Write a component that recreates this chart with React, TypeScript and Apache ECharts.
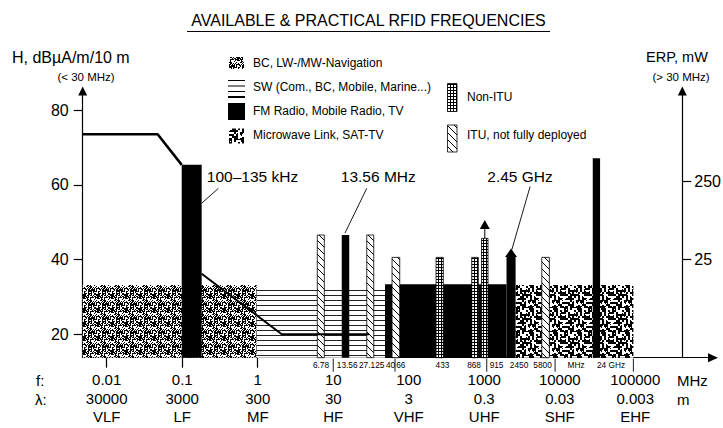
import React, { useEffect, useRef } from 'react';
import * as echarts from 'echarts';

const W = 723;
const H = 428;
const FONT = '"Liberation Sans", Arial, Helvetica, sans-serif';

// ---- texts ----
const chartTitle = 'AVAILABLE & PRACTICAL RFID FREQUENCIES';
const leftAxisTitle = 'H, dBµA/m/10 m';
const leftAxisNote = '(< 30 MHz)';
const rightAxisTitle = 'ERP, mW';
const rightAxisNote = '(> 30 MHz)';
const legendLeftTexts = ['BC, LW-/MW-Navigation', 'SW (Com., BC, Mobile, Marine...)', 'FM Radio, Mobile Radio, TV', 'Microwave Link, SAT-TV'];
const legendRightTexts = ['Non-ITU', 'ITU, not fully deployed'];

// ---- x axis: frequency (MHz, log scale) ----
const decadeMHz = [0.01, 0.1, 1, 10, 100, 1000, 10000, 100000];
const freqTickLabels = ['0.01', '0.1', '1', '10', '100', '1000', '10000', '100000'];
const wavelengthTickLabels = ['30000', '3000', '300', '30', '3', '0.3', '0.03', '0.003'];
const bandTickLabels = ['VLF', 'LF', 'MF', 'HF', 'VHF', 'UHF', 'SHF', 'EHF'];
const tickedDecadesMHz = [0.01, 0.1, 1];
const xMinMHz = 0.00481;
const xMaxMHz = 1.07e6;

// ---- left axis: H field strength ----
const hTicks = [20, 40, 60, 80];
const hMin = 13.7;
const hMax = 85.2;

// ---- right axis: ERP (mW), positions on the H scale ----
const erpTickH = [40.1, 60.9];
const erpTickLabels = ['25', '250'];

// ---- frequency bands ----
const bandNames = ['BC LW/MW', 'SW', 'FM/Mobile/TV', 'Microwave/SAT-TV', '100-135 kHz', '2.45 GHz', '6.78 MHz', '13.56 MHz', '27.125 MHz', '40.66 MHz', '433 MHz', '868 MHz', '915 MHz', '5.8 GHz', '24 GHz'];
const bandKinds = ['bc', 'sw', 'fm', 'mw', 'fm', 'fm', 'itu', 'fm', 'itu', 'itu', 'non', 'non', 'non', 'itu', 'fm'];
const bandStartMHz = [0.00481, 0.97, 48.5, 2600, 0.0985, 1972, 6.15, 12.97, 27.8, 60.1, 230, 683, 921, 5780, 27350];
const bandEndMHz = [0.97, 48.5, 1972, 94400, 0.181, 2600, 7.62, 16.3, 34.4, 76.0, 287, 835, 1122, 7280, 34200];
const bandLevel = [33.2, 31.9, 33.4, 33.2, 65.4, 40.8, 46.6, 46.6, 46.6, 40.6, 40.6, 40.6, 45.7, 40.6, 67.2];
const bandArrowTip: (number | null)[] = [null, null, null, null, null, 43.0, null, null, null, null, null, null, 50.6, null, null];

// ---- field strength limit (H, < 30 MHz) ----
const limitAMHz = [0.00481, 0.0473, 0.0985];
const limitAH = [73.6, 73.6, 65.4];
const limitBMHz = [0.181, 2.08, 30];
const limitBH = [36.2, 20, 20];

// ---- callouts ----
const calloutTexts = ['100–135 kHz', '13.56 MHz', '2.45 GHz'];
const calloutTextMHz = [0.853, 39.5, 2980];
const calloutTextH = [62.2, 62.2, 62.2];
const calloutFromMHz = [0.301, 27.8, 4050];
const calloutFromH = [59.1, 59.1, 59.6];
const calloutToMHz = [0.181, 14.3, 2312];
const calloutToH = [55.1, 47.1, 42.6];

// ---- small frequency labels along the axis ----
const markerLabels = ['6.78', '13.56', '27.125', '40', '66', '433', '868', '915', '2450', '5800', 'MHz', '24 GHz'];
const markerLabelMHz = [6.89, 15.3, 32.3, 57.5, 78.5, 280, 733, 1455, 2891, 5920, 16440, 47750];
const markerSeparatorMHz = [10, 65.8, 1079, 8670, 94400];

const lg = (v: number) => Math.log10(v);

function hash2(x: number, y: number, s: number) {
  let h = (Math.imul(x, 374761393) + Math.imul(y, 668265263) + Math.imul(s, 982451653)) | 0;
  h = Math.imul(h ^ (h >>> 13), 1274126177);
  h = h ^ (h >>> 16);
  return (h >>> 0) / 4294967296;
}

function makeTile(w: number, h: number, draw: (ctx: CanvasRenderingContext2D) => void) {
  const c = document.createElement('canvas');
  c.width = w;
  c.height = h;
  const ctx = c.getContext('2d') as CanvasRenderingContext2D;
  ctx.fillStyle = '#ffffff';
  ctx.fillRect(0, 0, w, h);
  ctx.fillStyle = '#000000';
  draw(ctx);
  return { image: c, repeat: 'repeat', imageWidth: w, imageHeight: h } as any;
}

function buildFills() {
  const bc = makeTile(14, 14, (ctx) => {
    for (let y = 0; y < 14; y++) {
      for (let x = 0; x < 14; x++) {
        const col = x % 7;
        const bias = col === 0 ? 0.12 : 0;
        if (hash2(x, y, 3) < 0.5 + bias) ctx.fillRect(x, y, 1, 1);
      }
    }
  });
  const mw = makeTile(24, 24, (ctx) => {
    for (let y = 0; y < 12; y++) {
      for (let x = 0; x < 12; x++) {
        if (hash2(x, y, 7) < 0.5) ctx.fillRect(x * 2, y * 2, 2, 2);
      }
    }
    for (let y = 0; y < 24; y++) {
      for (let x = 0; x < 24; x++) {
        if (hash2(x, y, 11) < 0.12) {
          ctx.fillStyle = hash2(x, y, 13) < 0.5 ? '#ffffff' : '#000000';
          ctx.fillRect(x, y, 1, 1);
        }
      }
    }
  });
  const non = makeTile(3, 3, (ctx) => {
    ctx.fillRect(0, 0, 3, 1);
    ctx.fillRect(0, 0, 1, 3);
  });
  const itu = makeTile(7, 7, (ctx) => {
    for (let i = 0; i < 7; i++) ctx.fillRect(i, i, 1, 1);
  });
  const sw = makeTile(4, 5, (ctx) => {
    ctx.fillStyle = '#222222';
    ctx.fillRect(0, 0, 4, 1);
  });
  return { bc, mw, non, itu, sw, fm: '#000000' } as Record<string, any>;
}

function txt(x: number, y: number, text: string, size: number, align = 'left', extra: any = {}) {
  return {
    type: 'text',
    x,
    y,
    silent: true,
    style: {
      text,
      fontSize: size,
      fontFamily: FONT,
      fill: '#000',
      align,
      textAlign: align,
      verticalAlign: 'middle',
      textVerticalAlign: 'middle',
      ...extra,
    },
  };
}

function buildOption() {
  const fills = buildFills();
  const axisColor = '#000';

  const graphic: any[] = [
    txt(368.5, 20, chartTitle, 16, 'center'),
    { type: 'line', silent: true, shape: { x1: 187, y1: 31.5, x2: 550, y2: 31.5 }, style: { stroke: '#000', lineWidth: 1.2 } },
    txt(12, 57, leftAxisTitle, 16, 'left'),
    txt(86, 76.5, leftAxisNote, 11.5, 'center'),
    txt(677, 57, rightAxisTitle, 14.5, 'center'),
    txt(681, 76.5, rightAxisNote, 11.5, 'center'),
    txt(36, 380, 'f:', 15, 'left'),
    txt(35, 399, 'λ:', 15, 'left'),
    txt(677, 380, 'MHz', 15, 'left'),
    txt(677, 399, 'm', 15, 'left'),
    // legend
    { type: 'rect', silent: true, shape: { x: 229, y: 57, width: 15, height: 12 }, style: { fill: fills.bc } },
    { type: 'line', silent: true, shape: { x1: 228, y1: 80.5, x2: 245, y2: 80.5 }, style: { stroke: '#000', lineWidth: 1 } },
    { type: 'line', silent: true, shape: { x1: 228, y1: 86, x2: 245, y2: 86 }, style: { stroke: '#000', lineWidth: 1 } },
    { type: 'line', silent: true, shape: { x1: 228, y1: 91.5, x2: 245, y2: 91.5 }, style: { stroke: '#000', lineWidth: 1 } },
    { type: 'line', silent: true, shape: { x1: 228, y1: 97, x2: 245, y2: 97 }, style: { stroke: '#000', lineWidth: 2 } },
    { type: 'rect', silent: true, shape: { x: 228, y: 103, width: 17, height: 17 }, style: { fill: '#000' } },
    { type: 'rect', silent: true, shape: { x: 229, y: 128.5, width: 15, height: 15 }, style: { fill: fills.mw } },
    txt(253, 62.5, legendLeftTexts[0], 12),
    txt(253, 87, legendLeftTexts[1], 12),
    txt(253, 110.5, legendLeftTexts[2], 12),
    txt(253, 135, legendLeftTexts[3], 12),
    { type: 'rect', silent: true, shape: { x: 447.5, y: 83.5, width: 9.5, height: 28 }, style: { fill: fills.non, stroke: '#000', lineWidth: 0.8 } },
    { type: 'rect', silent: true, shape: { x: 447.5, y: 125, width: 9.5, height: 27 }, style: { fill: fills.itu, stroke: '#000', lineWidth: 0.8 } },
    txt(467, 97, legendRightTexts[0], 12),
    txt(467, 135, legendRightTexts[1], 12),
  ];

  const bandSeries = {
    type: 'custom',
    name: 'bands',
    z: 2,
    silent: true,
    encode: { x: [0, 1], y: 2 },
    data: bandStartMHz.map((s, i) => [lg(s), lg(bandEndMHz[i]), bandLevel[i]]),
    renderItem: (params: any, api: any) => {
      const i = params.dataIndex;
      const s = api.coord([api.value(0), hMin]);
      const e = api.coord([api.value(1), api.value(2)]);
      const kind = bandKinds[i];
      const outlined = kind === 'itu' || kind === 'non';
      const kids: any[] = [
        {
          type: 'rect',
          shape: { x: s[0], y: e[1], width: e[0] - s[0], height: s[1] - e[1] },
          style: { fill: fills[kind], stroke: outlined ? '#000' : null, lineWidth: 0.8 },
        },
      ];
      const tip = bandArrowTip[i];
      if (tip != null) {
        const t = api.coord([api.value(0), tip]);
        const mid = (s[0] + e[0]) / 2;
        if (kind === 'fm') {
          kids.push({
            type: 'polygon',
            shape: { points: [[s[0] - 1.5, e[1] + 0.5], [e[0] + 1.5, e[1] + 0.5], [mid, t[1]]] },
            style: { fill: '#000' },
          });
        } else {
          const headH = 9;
          kids.push({ type: 'line', shape: { x1: mid, y1: e[1], x2: mid, y2: t[1] + headH }, style: { stroke: '#000', lineWidth: 1 } });
          kids.push({
            type: 'polygon',
            shape: { points: [[mid - 5, t[1] + headH], [mid + 5, t[1] + headH], [mid, t[1]]] },
            style: { fill: '#000' },
          });
        }
      }
      return { type: 'group', children: kids };
    },
  };

  const limitA = {
    type: 'line',
    name: 'limitA',
    z: 5,
    silent: true,
    symbol: 'none',
    data: limitAMHz.map((f, i) => [lg(f), limitAH[i]]),
    lineStyle: { color: '#000', width: 2.6 },
  };
  const limitB = {
    type: 'line',
    name: 'limitB',
    z: 5,
    silent: true,
    symbol: 'none',
    data: limitBMHz.map((f, i) => [lg(f), limitBH[i]]),
    lineStyle: { color: '#000', width: 2 },
  };

  const calloutSeries = {
    type: 'custom',
    name: 'callouts',
    z: 6,
    silent: true,
    encode: { x: [0, 2], y: [1, 3] },
    data: calloutTexts.map((_, i) => [lg(calloutFromMHz[i]), calloutFromH[i], lg(calloutToMHz[i]), calloutToH[i], lg(calloutTextMHz[i]), calloutTextH[i]]),
    renderItem: (params: any, api: any) => {
      const i = params.dataIndex;
      const a = api.coord([api.value(0), api.value(1)]);
      const b = api.coord([api.value(2), api.value(3)]);
      const t = api.coord([api.value(4), api.value(5)]);
      return {
        type: 'group',
        children: [
          { type: 'line', shape: { x1: a[0], y1: a[1], x2: b[0], y2: b[1] }, style: { stroke: '#000', lineWidth: 0.9 } },
          {
            type: 'text',
            x: t[0],
            y: t[1],
            style: { text: calloutTexts[i], fontSize: 15.5, fontFamily: FONT, fill: '#000', align: 'center', textAlign: 'center', verticalAlign: 'middle', textVerticalAlign: 'middle' },
          },
        ],
      };
    },
  };

  const markerSeries = {
    type: 'custom',
    name: 'markers',
    z: 6,
    silent: true,
    encode: { x: 0, y: 1 },
    data: markerLabelMHz.map((f) => [lg(f), hMin]),
    renderItem: (params: any, api: any) => {
      const p = api.coord([api.value(0), hMin]);
      return {
        type: 'text',
        x: p[0],
        y: p[1] + 7.5,
        style: { text: markerLabels[params.dataIndex], fontSize: 8.3, fontFamily: FONT, fill: '#000', align: 'center', textAlign: 'center', verticalAlign: 'middle', textVerticalAlign: 'middle' },
      };
    },
  };

  const separatorSeries = {
    type: 'custom',
    name: 'separators',
    z: 6,
    silent: true,
    encode: { x: 0, y: 1 },
    data: markerSeparatorMHz.map((f) => [lg(f), hMin]),
    renderItem: (params: any, api: any) => {
      const p = api.coord([api.value(0), hMin]);
      return { type: 'line', shape: { x1: p[0], y1: p[1] + 1, x2: p[0], y2: p[1] + 14 }, style: { stroke: '#000', lineWidth: 0.9 } };
    },
  };

  const nearestIdx = (arr: number[], v: number) => {
    let best = 0;
    for (let k = 1; k < arr.length; k++) if (Math.abs(arr[k] - v) < Math.abs(arr[best] - v)) best = k;
    return best;
  };

  return {
    animation: false,
    backgroundColor: '#fff',
    textStyle: { fontFamily: FONT, color: '#000' },
    grid: { left: 82.7, right: 10, top: 91, bottom: 70.3, containLabel: false, outerBoundsMode: 'none' },
    xAxis: {
      type: 'value',
      min: lg(xMinMHz),
      max: lg(xMaxMHz),
      axisLine: { show: true, onZero: false, lineStyle: { color: axisColor, width: 1.2 }, symbol: ['none', 'triangle'], symbolSize: [9, 10] },
      axisTick: { show: true, length: 10, lineStyle: { color: axisColor, width: 1.2 }, customValues: tickedDecadesMHz.map(lg) },
      axisLabel: {
        show: true,
        customValues: decadeMHz.map(lg),
        formatter: (v: number) => {
          const k = nearestIdx(decadeMHz.map(lg), v);
          return `${freqTickLabels[k]}\n${wavelengthTickLabels[k]}\n${bandTickLabels[k]}`;
        },
        fontSize: 15,
        lineHeight: 18.3,
        margin: 13,
        color: '#000',
        fontFamily: FONT,
      },
      splitLine: { show: false },
    },
    yAxis: [
      {
        type: 'value',
        position: 'left',
        min: hMin,
        max: hMax,
        axisLine: { show: true, onZero: false, lineStyle: { color: axisColor, width: 1.2 }, symbol: ['none', 'triangle'], symbolSize: [9, 9] },
        axisTick: { show: true, length: 9, lineStyle: { color: axisColor, width: 1.2 }, customValues: hTicks },
        axisLabel: { show: true, customValues: hTicks, fontSize: 16, margin: 14, color: '#000', fontFamily: FONT },
        splitLine: { show: false },
      },
      {
        type: 'value',
        position: 'right',
        offset: -30.7,
        min: hMin,
        max: hMax,
        axisLine: { show: true, onZero: false, lineStyle: { color: axisColor, width: 1.2 }, symbol: ['none', 'triangle'], symbolSize: [9, 9] },
        axisTick: { show: true, length: 9, lineStyle: { color: axisColor, width: 1.2 }, customValues: erpTickH },
        axisLabel: {
          show: true,
          customValues: erpTickH,
          formatter: (v: number) => erpTickLabels[nearestIdx(erpTickH, v)],
          fontSize: 16,
          margin: 12,
          color: '#000',
          fontFamily: FONT,
        },
        splitLine: { show: false },
      },
    ],
    graphic,
    series: [bandSeries, limitA, limitB, calloutSeries, markerSeries, separatorSeries],
  } as any;
}

export default function App() {
  const ref = useRef<HTMLDivElement>(null);
  useEffect(() => {
    document.body.style.margin = '0';
    const chart = echarts.init(ref.current as HTMLDivElement, null, { renderer: 'svg', width: W, height: H });
    chart.setOption(buildOption());
    return () => chart.dispose();
  }, []);
  return <div ref={ref} style={{ width: W, height: H, position: 'absolute', left: 0, top: 0, background: '#fff' }} />;
}
